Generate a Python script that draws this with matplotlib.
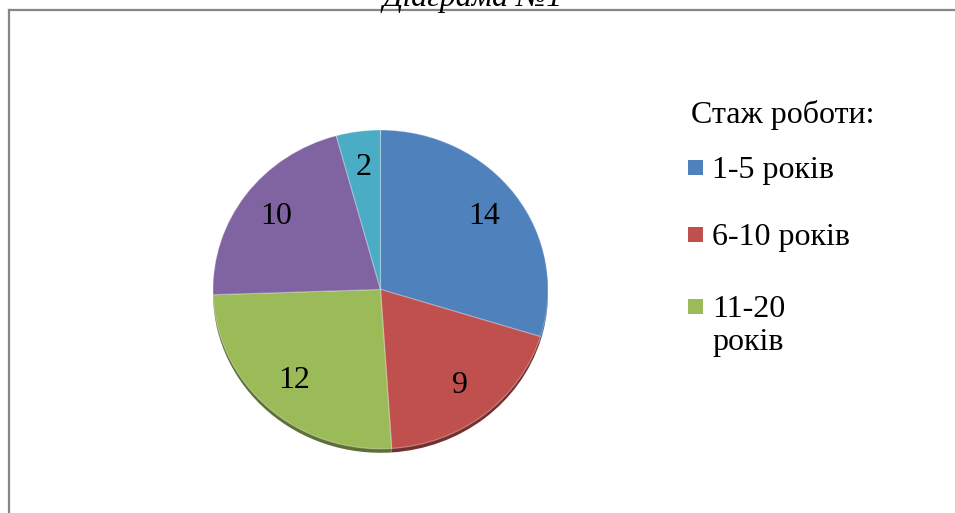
import matplotlib.pyplot as plt
from matplotlib.lines import Line2D
from matplotlib.patches import Rectangle
from matplotlib.colors import to_rgb

# значення з діаграми (стаж роботи)
values = [14, 9, 12, 10, 2]
categories = ["1-5 років", "6-10 років", "11-20\nроків", "21-30 років", "понад 30 років"]
colors = ["#4F81BD", "#C0504D", "#9BBB59", "#8064A2", "#4BACC6"]
legend_title = "Стаж роботи:"
chart_title = "Діаграма №1"
shown_in_legend = 3  # легенда обрізана, видно лише три пункти

plt.rcParams["font.family"] = ["Liberation Serif", "DejaVu Serif"]

fig = plt.figure(figsize=(9.55, 5.13), dpi=100)
ax = fig.add_axes([213 / 955, 1 - 452 / 513, 335 / 955, 322 / 513])

total = sum(values)
dark = [tuple(c * 0.6 for c in to_rgb(col)) for col in colors]

# "тінь" знизу, як у 3D-діаграмі
ax.pie(values, colors=dark, startangle=90, counterclock=False,
       center=(0, -0.025), radius=1.0, wedgeprops=dict(linewidth=0))

ax.pie(values, colors=colors, startangle=90, counterclock=False,
       radius=1.0, pctdistance=0.77,
       autopct=lambda p: f"{round(p * total / 100):.0f}",
       textprops=dict(fontsize=23, color="black"),
       wedgeprops=dict(edgecolor=(1, 1, 1, 0.35), linewidth=0.8))

ax.set_aspect("auto")
ax.set_xlim(-1, 1)
ax.set_ylim(-1.02, 1)
ax.axis("off")

# рамка області діаграми (верх і ліво)
fig.add_artist(Line2D([8.5 / 955, 1], [1 - 9.5 / 513, 1 - 9.5 / 513],
                      transform=fig.transFigure, color="#868686", lw=1.6))
fig.add_artist(Line2D([8.5 / 955, 8.5 / 955], [0, 1 - 9.5 / 513],
                      transform=fig.transFigure, color="#868686", lw=1.6))

# заголовок (обрізаний зверху, як в оригіналі)
fig.text(473 / 955, 1 - 6 / 513, chart_title, ha="center", va="baseline",
         fontsize=23, style="italic")

# легенда
fig.text(691 / 955, 1 - 115 / 513, legend_title, ha="left", va="center", fontsize=23)
ys = [168, 235, 307]
for y, lab, col in zip(ys, categories[:shown_in_legend], colors[:shown_in_legend]):
    fig.add_artist(Rectangle((688 / 955, 1 - (y + 7) / 513), 15 / 955, 15 / 513,
                             transform=fig.transFigure, color=col, lw=0))
    fig.text(712 / 955, 1 - (y - 12) / 513, lab, ha="left", va="top",
             fontsize=23, linespacing=1.2)

fig.savefig("out.png", dpi=100)
